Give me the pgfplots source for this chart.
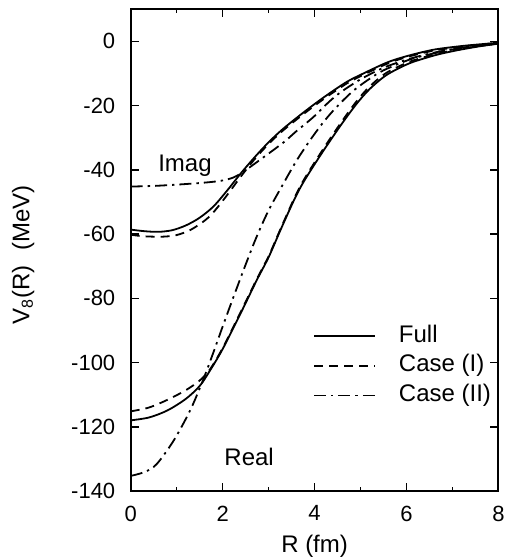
\documentclass[border=0pt]{standalone}
\usepackage{fontspec}
\setmainfont{Liberation Sans}
\usepackage{pgfplots}
\pgfplotsset{compat=1.18}
\begin{document}
\begin{tikzpicture}
\begin{axis}[
  scale only axis, width=183.9pt, height=240.85pt,
  xmin=0, xmax=8, ymin=-140, ymax=10,
  xtick={0,2,4,6,8}, minor x tick num=1,
  ytick={-140,-120,...,0},
  major tick length=4pt, minor tick length=2pt,
  every tick/.style={black, line width=0.8pt},
  axis line style={line width=1pt},
  tick label style={font=\fontsize{11}{13}\selectfont},
  /pgf/number format/assume math mode=true,
  yticklabel style={xshift=-4.2pt},
  xticklabel style={yshift=-3.8pt},
  xlabel={R (fm)},
  ylabel={V\textsubscript{8}(R)\hspace{0.6em}(MeV)},
  label style={font=\fontsize{12}{14}\selectfont},
  xlabel style={at={(axis description cs:0.5,0)}, anchor=base, yshift=-30.85pt},
  ylabel style={at={(axis description cs:-0.2757,0.49)}, anchor=base},
  legend style={draw=none, fill=none, inner sep=0pt, at={(axis cs:3.96,-88.2)}, anchor=north west,
    font=\fontsize{12}{14}\selectfont, row sep=3.6pt, nodes={inner sep=0pt, text height=8.6pt, text depth=2.6pt}},
  legend cell align=left,
  legend image code/.code={\draw[#1] (0pt,0pt) -- (30.5pt,0pt);},
  /tikz/every odd column/.append style={column sep=11.5pt},
  every axis plot/.append style={line width=0.9pt, black},
]
% Full, real part
\addplot[smooth, solid] coordinates {(0,-118.0) (0.4,-117.1) (0.8,-114.9) (1.2,-111.3) (1.5,-107.3) (1.72,-102.6) (2.0,-95.8) (2.38,-85.0) (2.74,-74.4) (3.0,-67.2) (3.25,-59.0) (3.54,-49.8) (3.75,-44.0) (4.12,-35.6) (4.55,-26.5) (4.91,-19.5) (5.2,-14.8) (5.56,-10.5) (6.0,-7.2) (6.29,-5.7) (6.7,-4.0) (7.16,-2.6) (7.6,-1.5) (8,-0.7)};
\addlegendentry{Full}
% Case (I), real part
\addplot[smooth, dash pattern=on 4.5pt off 3pt] coordinates {(0,-115.2) (0.4,-114.0) (0.8,-111.6) (1.2,-108.6) (1.5,-105.6) (1.72,-102.2) (2.0,-95.5) (2.38,-84.6) (2.74,-74.1) (3.0,-66.9) (3.25,-58.7) (3.54,-49.4) (3.75,-43.5) (4.12,-35.0) (4.55,-25.8) (4.91,-18.7) (5.2,-14.0) (5.56,-9.8) (6.0,-6.7) (6.29,-5.3) (6.7,-3.7) (7.16,-2.4) (7.6,-1.4) (8,-0.6)};
\addlegendentry{Case (I)}
% Case (II), real part
\addplot[smooth, dash pattern=on 6pt off 2.5pt on 1.2pt off 2.5pt] coordinates {(0,-135.3) (0.3,-134.1) (0.56,-131.7) (0.93,-124.4) (1.29,-115.0) (1.57,-105.6) (1.8,-96.8) (2.01,-88.4) (2.23,-79.8) (2.5,-69.5) (2.74,-60.8) (3.0,-52.6) (3.32,-44.3) (3.6,-37.3) (3.9,-30.8) (4.2,-25.0) (4.48,-20.4) (4.84,-15.4) (5.2,-11.6) (5.5,-9.0) (6.0,-6.0) (6.3,-4.7) (7.0,-2.5) (7.5,-1.5) (8,-0.7)};
\addlegendentry{Case (II)}
% Full, imaginary part
\addplot[smooth, solid] coordinates {(0,-58.6) (0.3,-59.1) (0.6,-59.3) (0.9,-58.8) (1.2,-57.3) (1.5,-54.9) (1.8,-51.4) (2.1,-46.4) (2.4,-41.0) (2.7,-36.0) (3.0,-31.4) (3.3,-27.4) (3.68,-23.0) (4.0,-19.5) (4.3,-16.4) (4.7,-12.6) (5.0,-10.4) (5.57,-6.6) (6.0,-4.6) (6.58,-2.6) (7.16,-1.5) (7.6,-0.9) (8,-0.4)};
% Case (I), imaginary part
\addplot[smooth, dash pattern=on 4.5pt off 3pt] coordinates {(0,-60.2) (0.3,-60.7) (0.7,-60.8) (1.0,-60.3) (1.3,-58.7) (1.6,-55.9) (1.8,-53.2) (2.1,-47.8) (2.4,-42.0) (2.7,-36.6) (3.0,-31.9) (3.3,-27.9) (3.68,-23.5) (4.0,-20.0) (4.3,-16.9) (4.7,-13.1) (5.0,-10.8) (5.57,-7.0) (6.0,-4.9) (6.58,-2.9) (7.16,-1.7) (7.6,-1.0) (8,-0.5)};
% Case (II), imaginary part
\addplot[smooth, dash pattern=on 6pt off 2.5pt on 1.2pt off 2.5pt] coordinates {(0,-45.2) (0.5,-45.0) (1.0,-44.6) (1.5,-44.1) (1.8,-43.7) (2.0,-43.3) (2.23,-42.4) (2.45,-40.6) (2.8,-37.0) (3.32,-31.5) (3.6,-28.0) (3.97,-23.6) (4.3,-19.0) (4.55,-16.0) (5.0,-11.8) (5.5,-8.2) (6.0,-5.7) (6.5,-3.8) (7.0,-2.4) (7.5,-1.4) (8,-0.6)};
\node[font=\fontsize{12}{14}\selectfont, anchor=base] at (axis cs:1.18,-40.4) {Imag};
\node[font=\fontsize{12}{14}\selectfont, anchor=base] at (axis cs:2.576,-132.0) {Real};
\coordinate (bbsw) at (rel axis cs:0,0);
\coordinate (bbne) at (rel axis cs:1,1);
\end{axis}
\pgfresetboundingbox
\path[use as bounding box] ([shift={(-65.35pt,-33.5pt)}]bbsw) rectangle ([shift={(4.25pt,4.65pt)}]bbne);
\end{tikzpicture}
\end{document}
